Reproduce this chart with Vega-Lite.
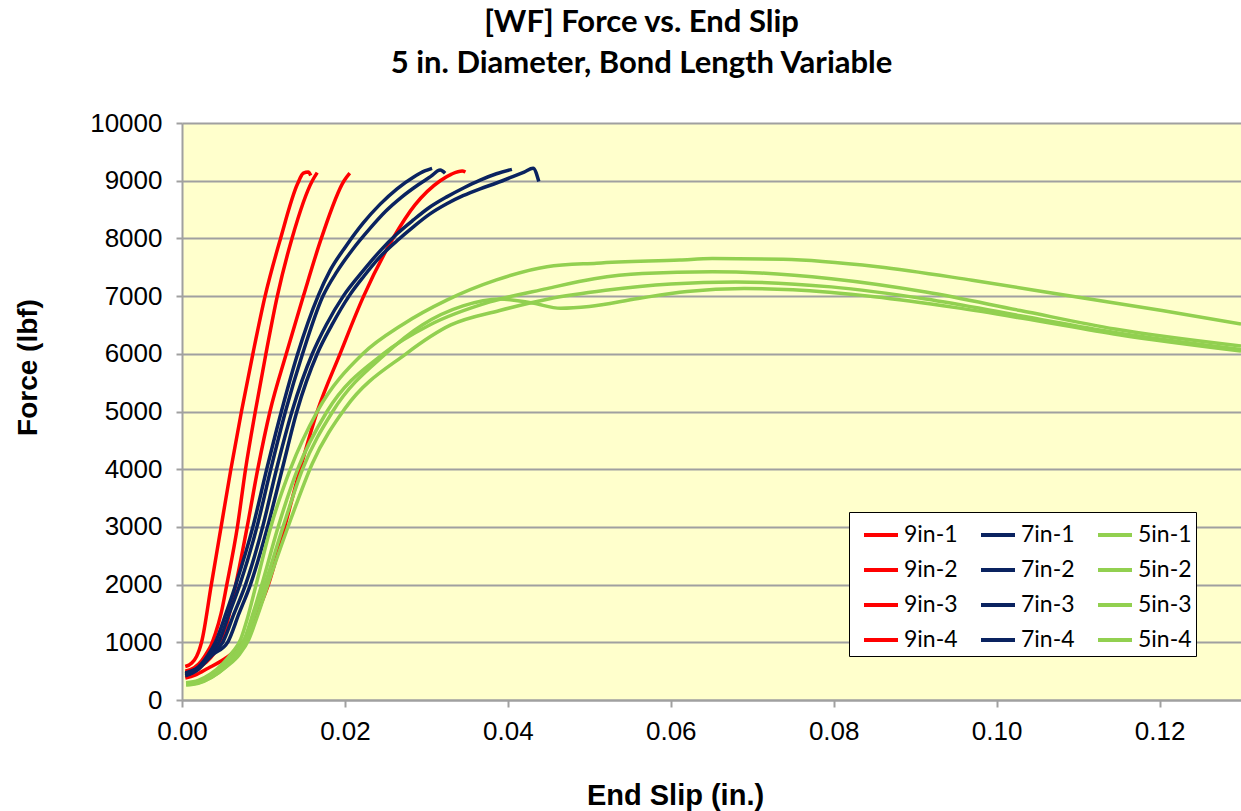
{
  "$schema": "https://vega.github.io/schema/vega-lite/v6.json",
  "width": 1059,
  "height": 577,
  "autosize": {"type": "none"},
  "padding": {"left": 182, "top": 123, "right": 0, "bottom": 111},
  "background": "white",
  "config": {"view": {"fill": "#FFFFCC", "stroke": null}},
  "title": {"text": ["[WF] Force vs. End Slip", "5 in. Diameter, Bond Length Variable"], "font": "Lato", "fontSize": 31, "fontWeight": "bold", "color": "black", "lineHeight": 41, "anchor": "middle", "dx": -70, "offset": 30},
  "data": {"values": [
    {"s":"9in-1","x":0.0004,"y":580},{"s":"9in-1","x":0.0012,"y":640},{"s":"9in-1","x":0.0018,"y":760},{"s":"9in-1","x":0.0021,"y":860},{"s":"9in-1","x":0.0024,"y":1000},{"s":"9in-1","x":0.0036,"y":2000},{"s":"9in-1","x":0.0048,"y":3000},{"s":"9in-1","x":0.0060,"y":4000},{"s":"9in-1","x":0.0073,"y":5000},{"s":"9in-1","x":0.0087,"y":6000},{"s":"9in-1","x":0.0102,"y":7000},{"s":"9in-1","x":0.0121,"y":8000},{"s":"9in-1","x":0.0142,"y":8950},{"s":"9in-1","x":0.0149,"y":9130},{"s":"9in-1","x":0.0155,"y":9150},{"s":"9in-1","x":0.0158,"y":9090},
    {"s":"9in-2","x":0.0004,"y":500},{"s":"9in-2","x":0.0015,"y":560},{"s":"9in-2","x":0.0024,"y":680},{"s":"9in-2","x":0.0031,"y":830},{"s":"9in-2","x":0.0036,"y":960},{"s":"9in-2","x":0.0041,"y":1150},{"s":"9in-2","x":0.0048,"y":1500},{"s":"9in-2","x":0.0055,"y":2000},{"s":"9in-2","x":0.0068,"y":3000},{"s":"9in-2","x":0.0078,"y":4000},{"s":"9in-2","x":0.0090,"y":5000},{"s":"9in-2","x":0.0103,"y":6000},{"s":"9in-2","x":0.0117,"y":7000},{"s":"9in-2","x":0.0135,"y":8000},{"s":"9in-2","x":0.0160,"y":9000},{"s":"9in-2","x":0.0166,"y":9140},
    {"s":"9in-3","x":0.0004,"y":460},{"s":"9in-3","x":0.0018,"y":540},{"s":"9in-3","x":0.0030,"y":660},{"s":"9in-3","x":0.0040,"y":820},{"s":"9in-3","x":0.0047,"y":980},{"s":"9in-3","x":0.0053,"y":1200},{"s":"9in-3","x":0.0059,"y":1550},{"s":"9in-3","x":0.0066,"y":2000},{"s":"9in-3","x":0.0080,"y":3000},{"s":"9in-3","x":0.0093,"y":4000},{"s":"9in-3","x":0.0108,"y":5000},{"s":"9in-3","x":0.0128,"y":6000},{"s":"9in-3","x":0.0149,"y":7000},{"s":"9in-3","x":0.0171,"y":8000},{"s":"9in-3","x":0.0199,"y":9000},{"s":"9in-3","x":0.0206,"y":9130},
    {"s":"9in-4","x":0.0004,"y":380},{"s":"9in-4","x":0.0016,"y":430},{"s":"9in-4","x":0.0032,"y":550},{"s":"9in-4","x":0.0053,"y":720},{"s":"9in-4","x":0.0066,"y":860},{"s":"9in-4","x":0.0075,"y":1000},{"s":"9in-4","x":0.0091,"y":1470},{"s":"9in-4","x":0.0106,"y":2000},{"s":"9in-4","x":0.0126,"y":3000},{"s":"9in-4","x":0.0145,"y":4000},{"s":"9in-4","x":0.0166,"y":5000},{"s":"9in-4","x":0.0194,"y":6000},{"s":"9in-4","x":0.0223,"y":7000},{"s":"9in-4","x":0.0259,"y":8000},{"s":"9in-4","x":0.0286,"y":8580},{"s":"9in-4","x":0.0317,"y":9000},{"s":"9in-4","x":0.0331,"y":9115},{"s":"9in-4","x":0.0344,"y":9168},{"s":"9in-4","x":0.0348,"y":9150},
    {"s":"7in-1","x":0.0004,"y":470},{"s":"7in-1","x":0.0020,"y":570},{"s":"7in-1","x":0.0032,"y":780},{"s":"7in-1","x":0.0041,"y":1000},{"s":"7in-1","x":0.0054,"y":1500},{"s":"7in-1","x":0.0066,"y":2000},{"s":"7in-1","x":0.0087,"y":3000},{"s":"7in-1","x":0.0104,"y":4000},{"s":"7in-1","x":0.0122,"y":5000},{"s":"7in-1","x":0.0142,"y":6000},{"s":"7in-1","x":0.0167,"y":7000},{"s":"7in-1","x":0.0182,"y":7450},{"s":"7in-1","x":0.0201,"y":7860},{"s":"7in-1","x":0.0222,"y":8260},{"s":"7in-1","x":0.0243,"y":8590},{"s":"7in-1","x":0.0264,"y":8860},{"s":"7in-1","x":0.0284,"y":9060},{"s":"7in-1","x":0.0298,"y":9170},{"s":"7in-1","x":0.0307,"y":9215},
    {"s":"7in-2","x":0.0004,"y":430},{"s":"7in-2","x":0.0020,"y":540},{"s":"7in-2","x":0.0034,"y":790},{"s":"7in-2","x":0.0045,"y":1000},{"s":"7in-2","x":0.0058,"y":1500},{"s":"7in-2","x":0.0071,"y":2000},{"s":"7in-2","x":0.0092,"y":3000},{"s":"7in-2","x":0.0109,"y":4000},{"s":"7in-2","x":0.0127,"y":5000},{"s":"7in-2","x":0.0148,"y":6000},{"s":"7in-2","x":0.0173,"y":7000},{"s":"7in-2","x":0.0190,"y":7420},{"s":"7in-2","x":0.0209,"y":7800},{"s":"7in-2","x":0.0230,"y":8160},{"s":"7in-2","x":0.0250,"y":8470},{"s":"7in-2","x":0.0270,"y":8720},{"s":"7in-2","x":0.0290,"y":8930},{"s":"7in-2","x":0.0305,"y":9070},{"s":"7in-2","x":0.0317,"y":9185},{"s":"7in-2","x":0.0323,"y":9130},
    {"s":"7in-3","x":0.0004,"y":420},{"s":"7in-3","x":0.0020,"y":530},{"s":"7in-3","x":0.0036,"y":790},{"s":"7in-3","x":0.0050,"y":1000},{"s":"7in-3","x":0.0064,"y":1500},{"s":"7in-3","x":0.0078,"y":2000},{"s":"7in-3","x":0.0099,"y":3000},{"s":"7in-3","x":0.0116,"y":4000},{"s":"7in-3","x":0.0135,"y":5000},{"s":"7in-3","x":0.0160,"y":6000},{"s":"7in-3","x":0.0177,"y":6500},{"s":"7in-3","x":0.0198,"y":7000},{"s":"7in-3","x":0.0223,"y":7450},{"s":"7in-3","x":0.0243,"y":7780},{"s":"7in-3","x":0.0264,"y":8080},{"s":"7in-3","x":0.0284,"y":8320},{"s":"7in-3","x":0.0304,"y":8540},{"s":"7in-3","x":0.0325,"y":8720},{"s":"7in-3","x":0.0345,"y":8870},{"s":"7in-3","x":0.0366,"y":9010},{"s":"7in-3","x":0.0386,"y":9120},{"s":"7in-3","x":0.0405,"y":9197},
    {"s":"7in-4","x":0.0004,"y":450},{"s":"7in-4","x":0.0020,"y":550},{"s":"7in-4","x":0.0038,"y":790},{"s":"7in-4","x":0.0056,"y":1000},{"s":"7in-4","x":0.0070,"y":1500},{"s":"7in-4","x":0.0084,"y":2000},{"s":"7in-4","x":0.0105,"y":3000},{"s":"7in-4","x":0.0123,"y":4000},{"s":"7in-4","x":0.0141,"y":5000},{"s":"7in-4","x":0.0166,"y":6000},{"s":"7in-4","x":0.0184,"y":6500},{"s":"7in-4","x":0.0205,"y":7000},{"s":"7in-4","x":0.0223,"y":7340},{"s":"7in-4","x":0.0243,"y":7680},{"s":"7in-4","x":0.0264,"y":7960},{"s":"7in-4","x":0.0284,"y":8200},{"s":"7in-4","x":0.0304,"y":8420},{"s":"7in-4","x":0.0325,"y":8600},{"s":"7in-4","x":0.0345,"y":8740},{"s":"7in-4","x":0.0366,"y":8860},{"s":"7in-4","x":0.0386,"y":8960},{"s":"7in-4","x":0.0406,"y":9070},{"s":"7in-4","x":0.0420,"y":9150},{"s":"7in-4","x":0.0431,"y":9215},{"s":"7in-4","x":0.0438,"y":8985},
    {"s":"5in-1","x":0.0005,"y":300},{"s":"5in-1","x":0.0020,"y":340},{"s":"5in-1","x":0.0035,"y":450},{"s":"5in-1","x":0.0050,"y":630},{"s":"5in-1","x":0.0062,"y":830},{"s":"5in-1","x":0.0072,"y":1050},{"s":"5in-1","x":0.0080,"y":1400},{"s":"5in-1","x":0.0091,"y":2000},{"s":"5in-1","x":0.0109,"y":3000},{"s":"5in-1","x":0.0133,"y":4000},{"s":"5in-1","x":0.0166,"y":5000},{"s":"5in-1","x":0.0222,"y":6000},{"s":"5in-1","x":0.0270,"y":6500},{"s":"5in-1","x":0.0325,"y":6930},{"s":"5in-1","x":0.0386,"y":7280},{"s":"5in-1","x":0.0448,"y":7510},{"s":"5in-1","x":0.0509,"y":7570},{"s":"5in-1","x":0.0611,"y":7626},{"s":"5in-1","x":0.0651,"y":7650},{"s":"5in-1","x":0.0738,"y":7640},{"s":"5in-1","x":0.0854,"y":7510},{"s":"5in-1","x":0.0970,"y":7275},{"s":"5in-1","x":0.1087,"y":7010},{"s":"5in-1","x":0.1203,"y":6750},{"s":"5in-1","x":0.1300,"y":6515},
    {"s":"5in-2","x":0.0005,"y":280},{"s":"5in-2","x":0.0020,"y":320},{"s":"5in-2","x":0.0035,"y":420},{"s":"5in-2","x":0.0052,"y":600},{"s":"5in-2","x":0.0066,"y":820},{"s":"5in-2","x":0.0077,"y":1070},{"s":"5in-2","x":0.0086,"y":1450},{"s":"5in-2","x":0.0098,"y":2000},{"s":"5in-2","x":0.0118,"y":3000},{"s":"5in-2","x":0.0142,"y":4000},{"s":"5in-2","x":0.0178,"y":5000},{"s":"5in-2","x":0.0247,"y":6000},{"s":"5in-2","x":0.0304,"y":6500},{"s":"5in-2","x":0.0378,"y":6900},{"s":"5in-2","x":0.0448,"y":7130},{"s":"5in-2","x":0.0506,"y":7300},{"s":"5in-2","x":0.0565,"y":7390},{"s":"5in-2","x":0.0651,"y":7420},{"s":"5in-2","x":0.0710,"y":7400},{"s":"5in-2","x":0.0797,"y":7300},{"s":"5in-2","x":0.0913,"y":7070},{"s":"5in-2","x":0.1029,"y":6750},{"s":"5in-2","x":0.1145,"y":6430},{"s":"5in-2","x":0.1300,"y":6135},
    {"s":"5in-3","x":0.0005,"y":270},{"s":"5in-3","x":0.0020,"y":300},{"s":"5in-3","x":0.0037,"y":400},{"s":"5in-3","x":0.0055,"y":580},{"s":"5in-3","x":0.0071,"y":800},{"s":"5in-3","x":0.0082,"y":1050},{"s":"5in-3","x":0.0092,"y":1430},{"s":"5in-3","x":0.0109,"y":2150},{"s":"5in-3","x":0.0134,"y":3150},{"s":"5in-3","x":0.0160,"y":4100},{"s":"5in-3","x":0.0200,"y":5050},{"s":"5in-3","x":0.0275,"y":6000},{"s":"5in-3","x":0.0330,"y":6500},{"s":"5in-3","x":0.0390,"y":6750},{"s":"5in-3","x":0.0450,"y":6950},{"s":"5in-3","x":0.0520,"y":7100},{"s":"5in-3","x":0.0600,"y":7210},{"s":"5in-3","x":0.0680,"y":7245},{"s":"5in-3","x":0.0797,"y":7160},{"s":"5in-3","x":0.0913,"y":6950},{"s":"5in-3","x":0.1029,"y":6660},{"s":"5in-3","x":0.1145,"y":6370},{"s":"5in-3","x":0.1300,"y":6076},
    {"s":"5in-4","x":0.0005,"y":260},{"s":"5in-4","x":0.0020,"y":290},{"s":"5in-4","x":0.0036,"y":390},{"s":"5in-4","x":0.0053,"y":570},{"s":"5in-4","x":0.0068,"y":800},{"s":"5in-4","x":0.0079,"y":1050},{"s":"5in-4","x":0.0088,"y":1430},{"s":"5in-4","x":0.0104,"y":2100},{"s":"5in-4","x":0.0124,"y":3000},{"s":"5in-4","x":0.0148,"y":4000},{"s":"5in-4","x":0.0185,"y":5000},{"s":"5in-4","x":0.0250,"y":6000},{"s":"5in-4","x":0.0295,"y":6500},{"s":"5in-4","x":0.0345,"y":6830},{"s":"5in-4","x":0.0390,"y":6950},{"s":"5in-4","x":0.0430,"y":6880},{"s":"5in-4","x":0.0465,"y":6790},{"s":"5in-4","x":0.0500,"y":6820},{"s":"5in-4","x":0.0560,"y":6960},{"s":"5in-4","x":0.0620,"y":7080},{"s":"5in-4","x":0.0690,"y":7130},{"s":"5in-4","x":0.0750,"y":7110},{"s":"5in-4","x":0.0850,"y":6990},{"s":"5in-4","x":0.0950,"y":6800},{"s":"5in-4","x":0.1030,"y":6620},{"s":"5in-4","x":0.1150,"y":6330},{"s":"5in-4","x":0.1300,"y":6047}
  ]},
  "mark": {"type": "line", "strokeWidth": 3.5, "interpolate": "monotone", "clip": true},
  "encoding": {
    "x": {"field": "x", "type": "quantitative", "scale": {"domain": [0, 0.13], "nice": false, "zero": false},
      "axis": {"values": [0, 0.02, 0.04, 0.06, 0.08, 0.1, 0.12], "format": ".2f", "grid": false, "labelFont": "Liberation Sans", "labelFontSize": 26, "labelColor": "black", "labelFlush": false, "labelPadding": 11, "tickColor": "#a0a0a0", "tickSize": 7, "tickWidth": 2, "domainColor": "#a0a0a0", "domainWidth": 2, "title": "End Slip  (in.)", "titleFont": "Liberation Sans", "titleFontSize": 29, "titleFontWeight": "bold", "titleColor": "black", "titleX": 493, "titleY": 95, "titleAlign": "center", "titleBaseline": "middle"}},
    "y": {"field": "y", "type": "quantitative", "scale": {"domain": [0, 10000], "nice": false},
      "axis": {"values": [0, 1000, 2000, 3000, 4000, 5000, 6000, 7000, 8000, 9000, 10000], "format": "d", "grid": true, "gridColor": "#a0a0a0", "gridWidth": 2, "labelFont": "Liberation Sans", "labelFontSize": 26, "labelColor": "black", "labelPadding": 14, "tickColor": "#a0a0a0", "tickSize": 6, "tickWidth": 2, "domainColor": "#a0a0a0", "domainWidth": 2, "title": "Force (lbf)", "titleFont": "Liberation Sans", "titleFontSize": 28, "titleFontWeight": "bold", "titleColor": "black", "titleX": -154, "titleY": 244, "titleAlign": "center", "titleBaseline": "middle", "titleAngle": -90}},
    "color": {"field": "s", "type": "nominal",
      "scale": {"domain": ["9in-1","9in-2","9in-3","9in-4","7in-1","7in-2","7in-3","7in-4","5in-1","5in-2","5in-3","5in-4"],
                "range": ["#FF0000","#FF0000","#FF0000","#FF0000","#0A2360","#0A2360","#0A2360","#0A2360","#92D050","#92D050","#92D050","#92D050"]},
      "legend": {"orient": "none", "legendX": 667, "legendY": 389, "columns": 3, "title": null, "symbolType": "stroke", "symbolSize": 1156, "symbolStrokeWidth": 4, "symbolOffset": 9, "labelFont": "Lato", "labelFontSize": 23, "labelColor": "black", "labelOffset": 4, "columnPadding": 12, "rowPadding": 4, "padding": 4, "strokeColor": "black", "fillColor": "white", "cornerRadius": 0, "labelLimit": 200}}
  }
}
